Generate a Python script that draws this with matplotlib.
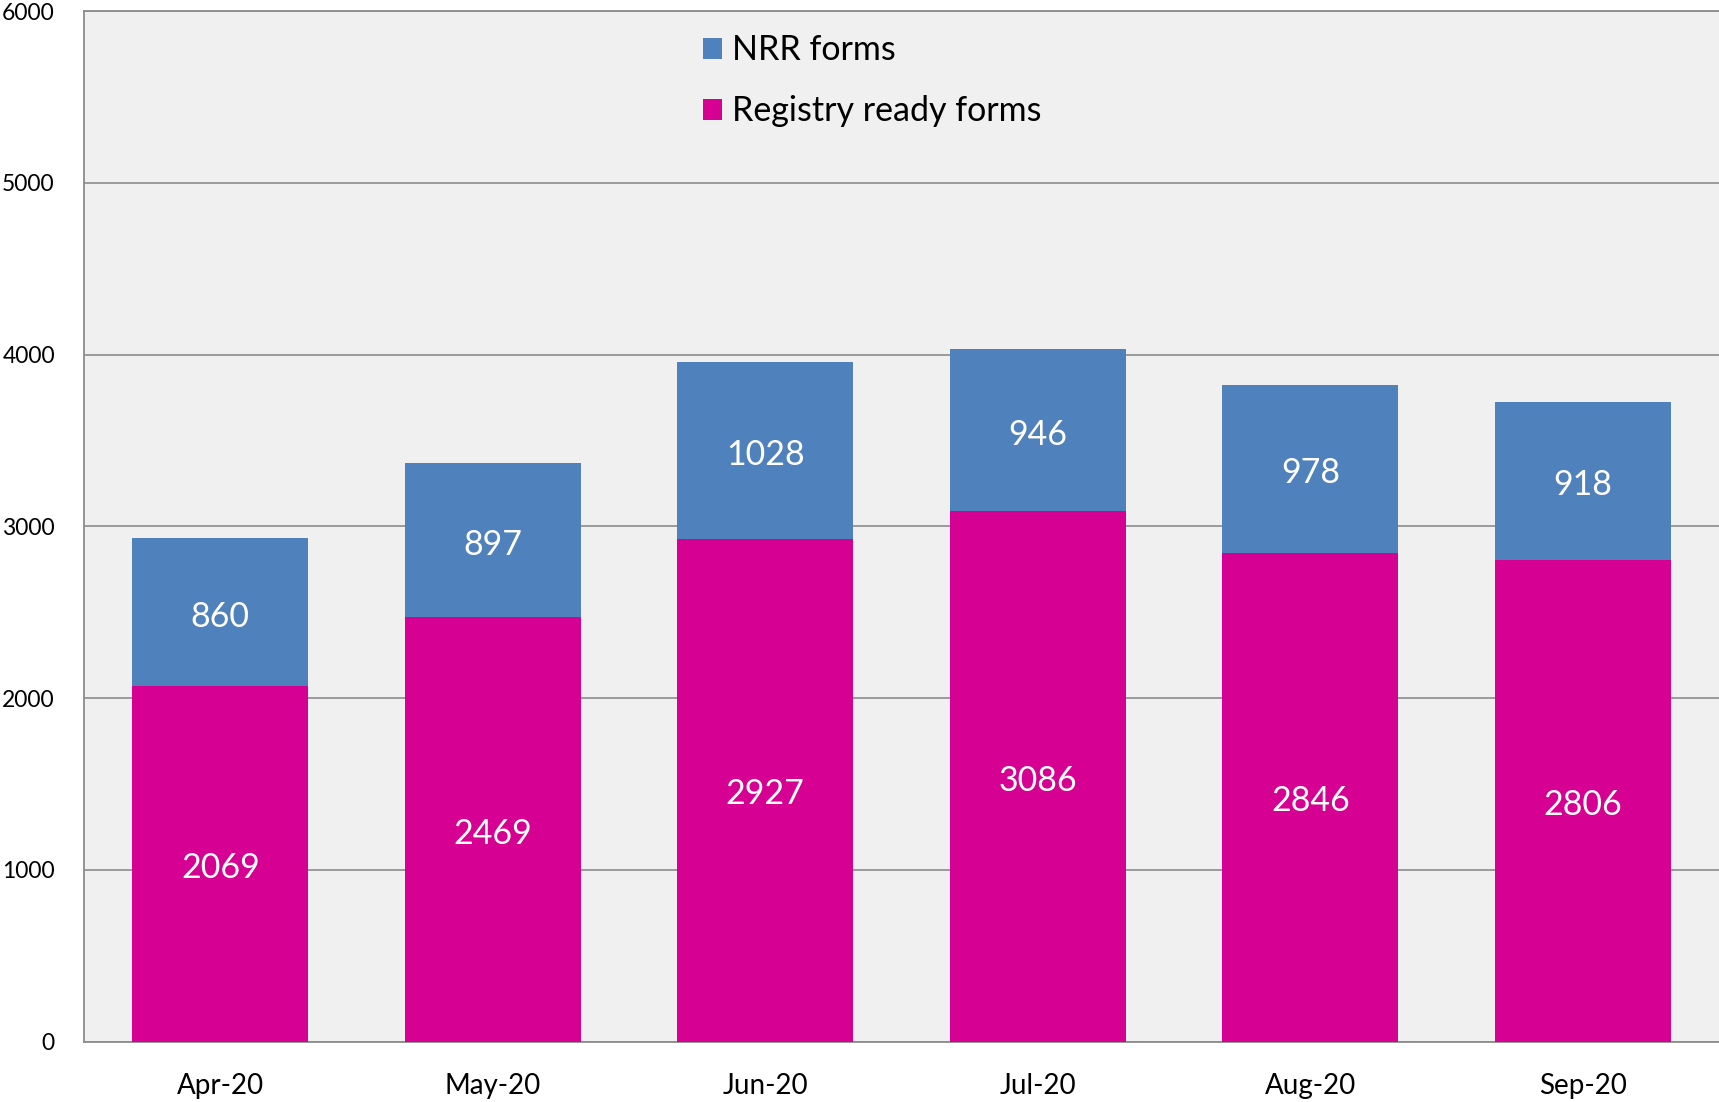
import numpy as np
import matplotlib
matplotlib.use('Agg')
import matplotlib.pyplot as plt

# 数据
months = ['Apr-20', 'May-20', 'Jun-20', 'Jul-20', 'Aug-20', 'Sep-20']
registry_ready = [2069, 2469, 2927, 3086, 2846, 2806]
nrr_forms = [860, 897, 1028, 946, 978, 918]

blue = '#4F81BD'
magenta = '#D60093'

plt.rcParams['font.family'] = ['Lato', 'DejaVu Sans']

fig = plt.figure(figsize=(17.19, 11.02), dpi=100)
ax = fig.add_axes([0.0489, 0.0549, 0.9511, 0.9351])
ax.set_facecolor('#F0F0F0')

x = np.arange(len(months))
w = 0.645
b1 = ax.bar(x, registry_ready, width=w, color=magenta, label='Registry ready forms', zorder=3)
b2 = ax.bar(x, nrr_forms, width=w, bottom=registry_ready, color=blue, label='NRR forms', zorder=3)

# 数值标签
for xi, r, n in zip(x, registry_ready, nrr_forms):
    ax.text(xi, r / 2 - 25, str(r), ha='center', va='center', color='white', fontsize=24.5, zorder=4)
    ax.text(xi, r + n / 2 - 25, str(n), ha='center', va='center', color='white', fontsize=24.5, zorder=4)

ax.set_xlim(-0.5, 5.5)
ax.set_ylim(0, 6000)
ax.set_yticks(range(0, 6001, 1000))
ax.set_xticks(x)
ax.set_xticklabels(months, fontsize=20)
ax.tick_params(axis='y', labelsize=16.5, length=0, pad=21)
ax.tick_params(axis='x', length=0, pad=23)
ax.grid(axis='y', color='#8C8C8C', linewidth=1.2, zorder=1)

for s in ['left', 'bottom', 'top']:
    ax.spines[s].set_color('#8C8C8C')
    ax.spines[s].set_linewidth(1.3)
ax.spines['right'].set_visible(False)

handles, labels = ax.get_legend_handles_labels()
ax.legend(handles[::-1], labels[::-1], loc='upper left', bbox_to_anchor=(0.36, 1.007),
          frameon=False, fontsize=24.5, handlelength=0.55, handleheight=0.55,
          handletextpad=0.3, labelspacing=0.85)

plt.savefig('out.png', dpi=100)
